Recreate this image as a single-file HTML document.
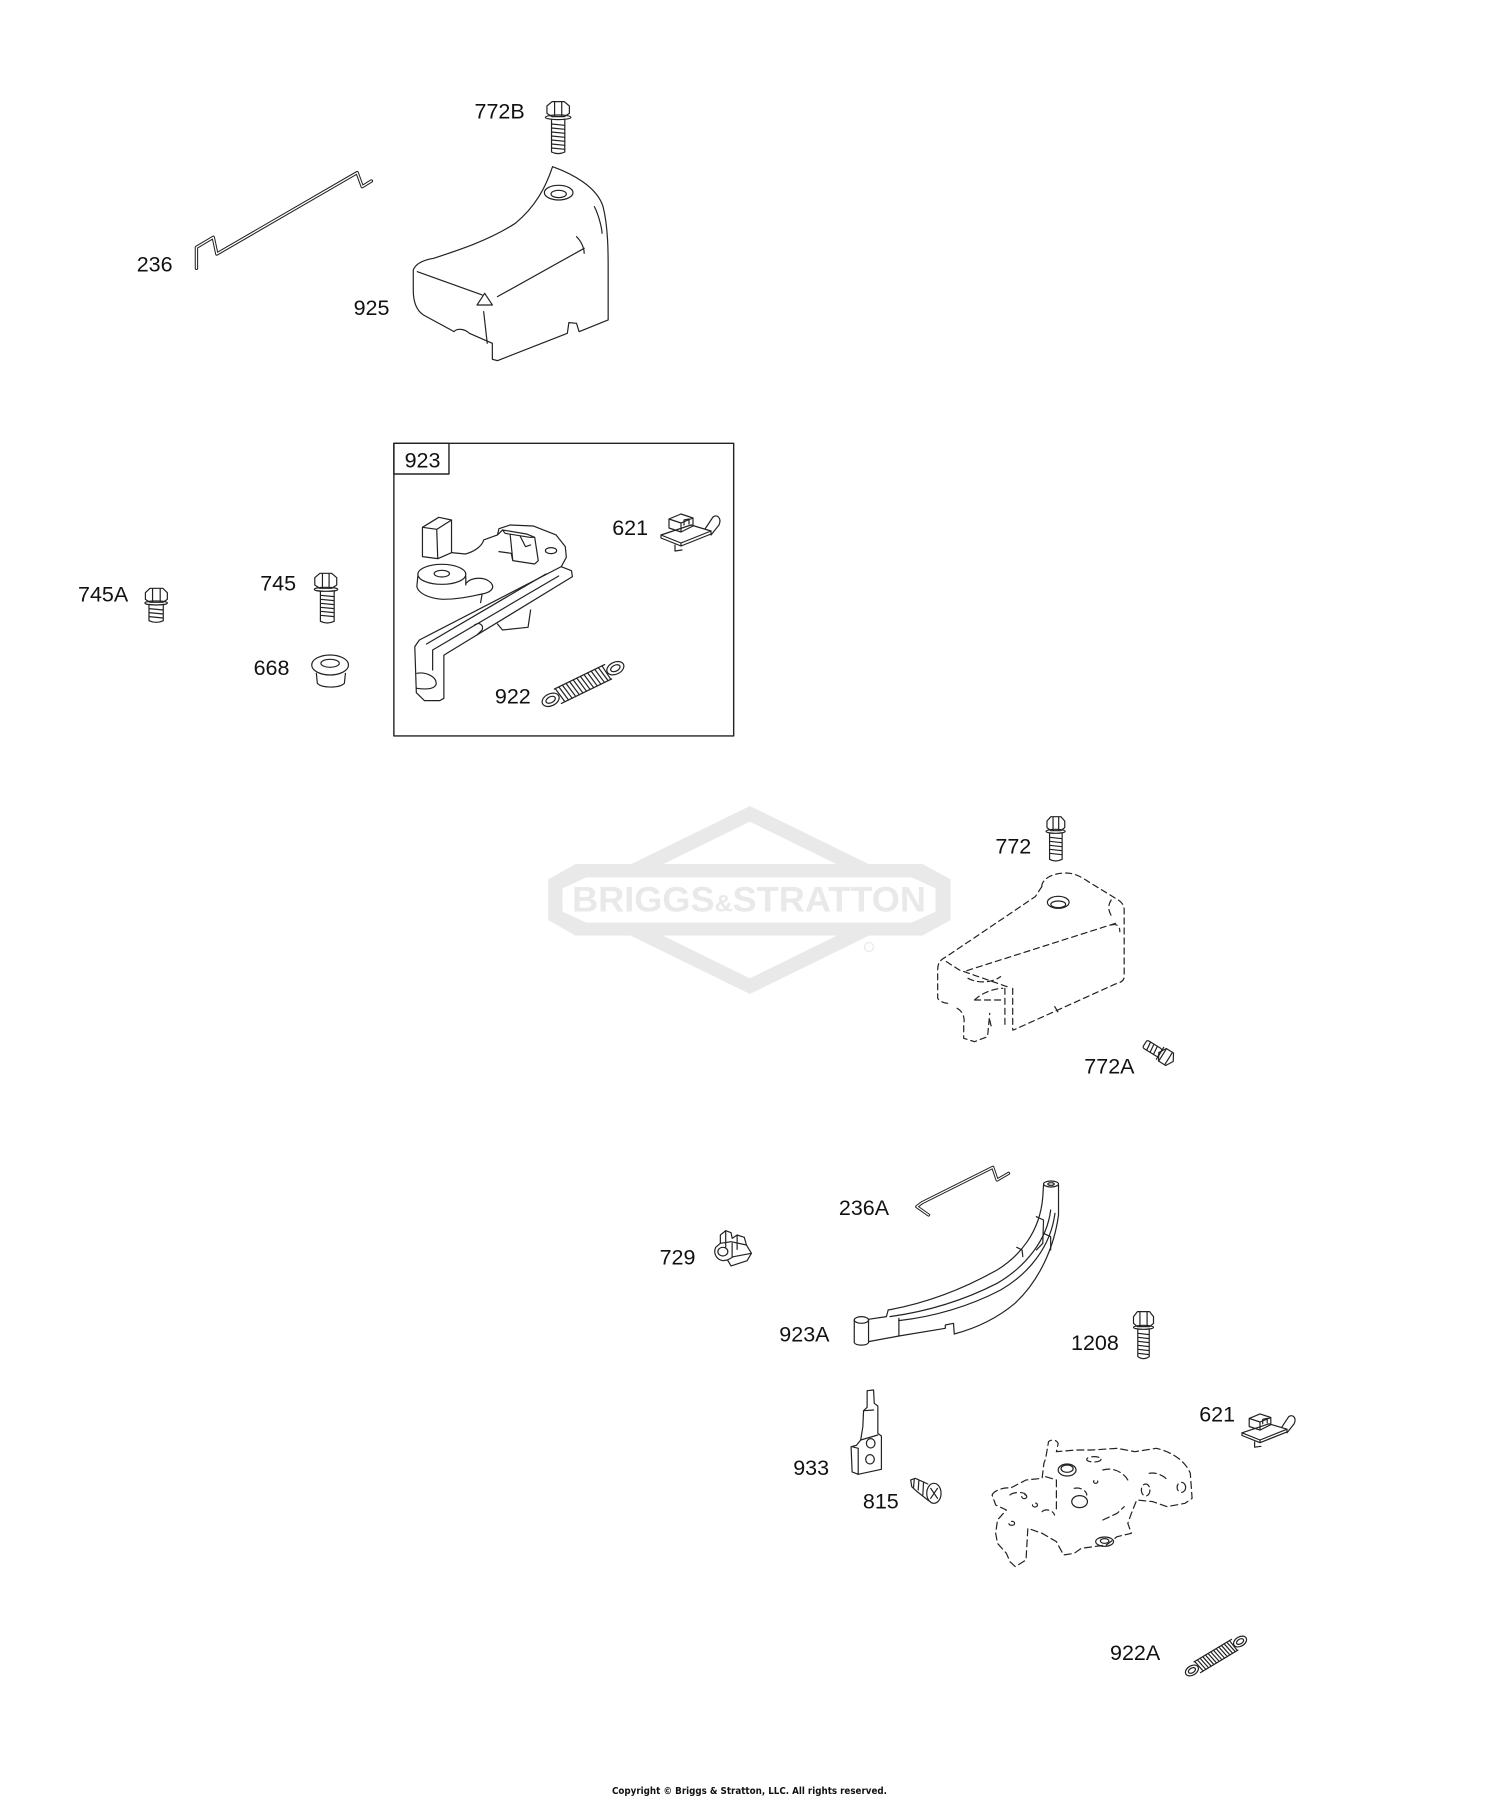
<!DOCTYPE html>
<html><head><meta charset="utf-8">
<style>
html,body{margin:0;padding:0;background:#fff;}
svg{display:block}
svg path,svg polyline,svg polygon,svg ellipse,svg rect,svg line,svg circle{vector-effect:non-scaling-stroke;}
.l{font-family:"Liberation Sans",Arial,sans-serif;font-size:21.5px;fill:#111;}
</style></head><body>
<svg width="1500" height="1800" viewBox="0 0 1500 1800" xmlns="http://www.w3.org/2000/svg">
<defs>
<g id="clip621">
<path d="M0,22 L30,12 L50,18 L20,30 Z"/>
<path d="M0,22 L0,25 L20,33 L50,21 L50,18 M20,30 L20,33"/>
<path d="M8,15 L8,6 L20,1 L32,5 L32,13 L20,19 Z M8,6 L20,10 L32,5 M20,10 L20,19"/>
<path d="M23,12 L23,7 L28,6 L28,11"/>
<path d="M44,16 L52,4 C56,1 61,5 58,12 L50,22"/>
<path d="M14,32 L14,38 L21,37"/>
</g>
<g id="spring">
<ellipse cx="-36" cy="0" rx="9" ry="6"/>
<ellipse cx="-36" cy="0" rx="5" ry="3"/>
<ellipse cx="36" cy="0" rx="9" ry="6"/>
<ellipse cx="36" cy="0" rx="5" ry="3"/>
<path d="M-28,-8 L28,-8 M-28,8 L28,8"/>
<path d="M-27,-8 l3,16 M-23,-8 l3,16 M-19,-8 l3,16 M-15,-8 l3,16 M-11,-8 l3,16 M-7,-8 l3,16 M-3,-8 l3,16 M1,-8 l3,16 M5,-8 l3,16 M9,-8 l3,16 M13,-8 l3,16 M17,-8 l3,16 M21,-8 l3,16 M25,-8 l2,16"/>
</g>
</defs>

<!-- watermark logo -->
<g transform="matrix(0.4337,0,0,0.3333,530,790)" fill="#e9e9e9" stroke="none">
<path fill-rule="evenodd" d="M507,48 L950,330 L507,612 L64,330 Z M507,95 L875,330 L507,565 L139,330 Z"/>
<path d="M105,222 L905,222 L970,268 L970,390 L905,437 L105,437 L42,390 L42,268 Z"/>
<path fill="#fff" d="M130,262 L880,262 L935,295 L935,365 L880,398 L130,398 L75,365 L75,295 Z"/>
</g>
<text x="572" y="911.5" font-family="Liberation Sans,Arial,sans-serif" font-weight="bold" font-size="35" fill="#e9e9e9" textLength="354" lengthAdjust="spacingAndGlyphs">BRIGGS<tspan font-size="24">&amp;</tspan>STRATTON</text>
<circle cx="869" cy="947" r="4.5" fill="none" stroke="#e9e9e9" stroke-width="1.2"/>

<g fill="none" stroke="#222" stroke-width="1.2" stroke-linejoin="round" stroke-linecap="round">

<!-- ZOOM 1 region -->
<g transform="matrix(0.5102,0,0,0.3333,0,0)">
 <path d="M1072,318 L1082,305 L1106,305 L1116,318 L1116,340 L1106,350 L1082,350 L1072,340 Z M1087,307 L1087,349 M1101,307 L1101,349"/>
 <ellipse cx="1094" cy="352" rx="25" ry="7"/>
 <path d="M1081,358 L1081,456 Q1094,466 1107,456 L1107,358"/>
 <path d="M1081,372 L1107,376 M1081,384 L1107,388 M1081,396 L1107,400 M1081,408 L1107,412 M1081,420 L1107,424 M1081,432 L1107,436 M1081,444 L1107,448"/>
 <polyline stroke-width="3.4" points="385,805 385,742 418,712 425,762 700,518 710,560 728,543"/>
 <polyline stroke="#fff" stroke-width="1.3" points="385,805 385,742 418,712 425,762 700,518 710,560 728,543"/>
 <path d="M1083,500 C1120,520 1170,560 1182,620 C1192,680 1192,760 1192,800 L1192,960 L1135,995 L1130,970 L1115,968 L1112,1000 L975,1082 L965,1078 L965,1030 C950,1020 935,1010 920,1000 C910,985 895,985 890,995 L830,945 C815,930 810,900 810,870 L810,810 C815,790 830,780 850,775 C900,750 960,720 1010,670 C1050,620 1070,560 1083,500 Z"/>
 <path d="M818,815 L945,885 M975,890 L1145,745 M950,880 L935,915 L965,915 Z M948,935 L955,1030 M1130,710 C1140,725 1145,745 1145,760 M1165,620 C1175,650 1180,690 1180,700"/>
 <ellipse cx="1095" cy="578" rx="28" ry="22"/>
 <ellipse cx="1095" cy="582" rx="15" ry="11"/>
</g>

<!-- ZOOM 2 region -->
<g transform="matrix(0.5102,0,0,0.3333,0,420)">
 <rect x="772" y="70" width="666" height="878" stroke-width="1.4"/>
 <rect x="772" y="70" width="108" height="92" stroke-width="1.4"/>
 <path d="M285,518 L294,505 L319,505 L328,518 L328,538 L319,547 L294,547 L285,538 Z M299,507 L299,546 M314,507 L314,546"/>
 <ellipse cx="306" cy="549" rx="22" ry="6"/>
 <path d="M292,556 L292,602 Q306,612 320,602 L320,556 M292,566 L320,570 M292,578 L320,582 M292,590 L320,594"/>
 <path d="M617,473 L627,460 L650,460 L660,473 L660,495 L650,505 L627,505 L617,495 Z M632,462 L632,504 M645,462 L645,504"/>
 <ellipse cx="639" cy="508" rx="23" ry="6"/>
 <path d="M628,514 L628,604 Q641,614 655,604 L655,514 M628,526 L655,530 M628,538 L655,542 M628,550 L655,554 M628,562 L655,566 M628,574 L655,578 M628,586 L655,590"/>
 <ellipse cx="647" cy="735" rx="36" ry="30"/>
 <ellipse cx="647" cy="730" rx="18" ry="12"/>
 <path d="M620,760 L622,790 C630,805 665,805 675,790 L677,760"/>
 <path d="M828,322 L860,292 L885,300 L885,398 L858,416 L828,410 Z M828,322 L856,328 L885,300 M856,328 L858,416"/>
 <ellipse cx="866" cy="463" rx="47" ry="30"/>
 <ellipse cx="866" cy="461" rx="15" ry="10"/>
 <path d="M819,468 L817,500 C820,520 840,535 868,538 C900,538 925,528 945,522 M913,470 L913,495"/>
 <path d="M885,398 L912,402 C930,395 945,378 948,360 L975,345 L978,326 L1000,315 L1045,318 L1090,345 L1108,380 L1110,412 L1100,440"/>
 <path d="M913,490 C925,470 950,470 962,488 C972,505 960,518 945,522 L942,548"/>
 <path d="M1040,570 L1035,622 L985,630 L975,612"/>
 <path d="M1100,440 L1120,452 L1122,470 L878,698 L870,706 L870,835 L862,842 L832,842 L816,818 L813,680 L822,660 Z"/>
 <path d="M1095,468 L848,690 L848,750 M1070,462 L836,672 M930,615 C940,605 948,615 945,630 L935,645"/>
 <path d="M817,760 C835,755 855,770 855,790 C855,805 840,810 817,805"/>
 <path d="M975,345 L985,330 L1032,342 L1048,352 L1055,422 L1048,432 L1005,422 L1002,400 L978,395 M985,330 L990,340 L1038,352 L1048,352 M1000,345 L1005,420 M1020,350 L1030,380 L1040,375"/>
 <ellipse cx="1080" cy="392" rx="11" ry="9"/>
</g>

<use href="#clip621" transform="translate(661,513)"/>
<use href="#spring" transform="translate(583,684) rotate(-26)"/>

<!-- ZOOM 3 region -->
<g transform="matrix(0.4337,0,0,0.3333,530,790)">
 <path d="M1192,93 L1201,80 L1224,80 L1233,93 L1233,113 L1224,122 L1201,122 L1192,113 Z M1206,82 L1206,121 M1219,82 L1219,121"/>
 <ellipse cx="1212" cy="124" rx="22" ry="6"/>
 <path d="M1198,130 L1198,208 Q1212,218 1227,208 L1227,130 M1198,142 L1227,146 M1198,154 L1227,158 M1198,166 L1227,170 M1198,178 L1227,182 M1198,190 L1227,194"/>
 <g stroke-dasharray="6 4">
 <path d="M1180,290 C1180,262 1215,245 1245,250 C1270,255 1285,275 1300,285 L1350,325 C1365,335 1370,345 1370,360 L1370,560 C1370,572 1362,578 1350,582 L1115,720"/>
 <path d="M1180,290 L1165,320 L960,500 C945,510 940,520 940,540 L940,625 C945,635 955,640 965,640"/>
 <path d="M985,655 C1000,665 1003,690 1000,700 L1000,745 L1025,755 L1055,740 L1060,670"/>
 <path d="M1095,595 L1095,715 M1113,595 L1113,720"/>
 <path d="M1340,330 C1330,350 1335,370 1345,385 M1350,400 L1000,545 M1340,405 C1355,400 1360,410 1360,425 M960,515 L990,540 L1100,590"/>
 <path d="M1010,565 C1030,580 1065,580 1085,560 M1025,630 C1040,610 1070,595 1090,595 M1025,630 L1090,630 M1210,650 L1220,672 M1060,690 L1065,718"/>
 </g>
 <ellipse cx="1218" cy="337" rx="25" ry="18"/>
 <ellipse cx="1218" cy="343" rx="17" ry="10"/>
</g>

<!-- 772A bolt -->
<g transform="translate(1166,1057) rotate(32)">
 <rect x="-25" y="-4.5" width="18" height="9" rx="2"/>
 <path d="M-21,-4.5 L-20,4.5 M-17,-4.5 L-16,4.5 M-13,-4.5 L-12,4.5"/>
 <path d="M-7,-7 L-7,7"/>
 <polygon points="8.5,0 4.25,7.4 -4.25,7.4 -8.5,0 -4.25,-7.4 4.25,-7.4"/>
 <path d="M-4,-7 L-4,7 M3,-7 L3,7"/>
</g>

<!-- ZOOM 4 region -->
<g transform="matrix(0.3571,0,0,0.3333,640,1160)">
 <polyline stroke-width="3.2" points="808,165 775,140 790,128 988,22 1000,60 1032,40"/>
 <polyline stroke="#fff" stroke-width="1.2" points="808,165 775,140 790,128 988,22 1000,60 1032,40"/>
 <path d="M212,262 C205,278 212,298 232,302 L245,300 L255,318 L300,302 L312,280 L298,255 L292,232 L272,225 L258,235 L255,218 L240,212 L225,225 L225,250 Z"/>
 <path d="M240,212 L240,262 M272,225 L272,268 M225,250 L255,245 L298,255 M245,300 L262,290 L312,280 M258,290 L258,250"/>
 <ellipse cx="232" cy="275" rx="14" ry="13"/>
 <ellipse cx="1151" cy="72" rx="21" ry="9"/>
 <ellipse cx="1151" cy="72" rx="9" ry="4"/>
 <path d="M1172,75 L1172,165 C1160,260 1120,360 1050,430 C1000,475 940,505 880,522"/>
 <path d="M1130,75 L1128,110 C1120,220 1060,290 1000,330 C900,390 800,430 695,450"/>
 <path d="M1150,150 C1140,240 1080,320 1000,370 C900,425 800,455 700,470"/>
 <path d="M1162,160 C1150,260 1090,340 1010,390 C920,440 820,470 725,482"/>
 <path d="M880,522 L878,490 L855,495 L855,505 L725,528 L640,545"/>
 <path d="M695,450 L690,470 L640,478 M725,475 L725,528 M1055,262 L1070,270 L1072,290 M1110,170 L1130,180 L1128,250 L1110,270 M1130,220 L1150,230 L1150,270"/>
 <ellipse cx="620" cy="480" rx="20" ry="10"/>
 <path d="M600,480 L600,548 C605,558 635,558 640,548 L640,480"/>
 <path d="M1382,470 L1393,455 L1427,455 L1438,470 L1438,490 L1427,500 L1393,500 L1382,490 Z M1400,457 L1400,499 M1420,457 L1420,499"/>
 <ellipse cx="1410" cy="502" rx="28" ry="6"/>
 <path d="M1394,508 L1394,590 Q1410,602 1426,590 L1426,508 M1394,520 L1426,524 M1394,532 L1426,536 M1394,544 L1426,548 M1394,556 L1426,560 M1394,568 L1426,572 M1394,580 L1426,584"/>
</g>

<!-- ZOOM 5 region -->
<g transform="matrix(0.3571,0,0,0.3333,760,1380)">
 <path d="M300,32 L318,30 L320,70 L330,78 L330,160 L340,168 L340,268 L275,283 L258,276 L255,200 L270,196 L282,180 L288,140 L290,92 L300,82 Z"/>
 <path d="M258,200 L275,205 L275,283 M282,180 L330,165 M290,92 L318,90"/>
 <ellipse cx="310" cy="190" rx="12" ry="14"/>
 <ellipse cx="308" cy="238" rx="12" ry="14"/>
 <ellipse cx="487" cy="340" rx="20" ry="30"/>
 <path d="M478,325 L497,355 M497,325 L478,355"/>
 <path d="M470,312 L435,295 L422,300 L425,320 L440,335 L472,362 M432,298 L430,322 M445,300 L443,330 M458,306 L456,345"/>
 <g stroke-dasharray="7 4">
 <path d="M650,345 C655,330 690,320 700,325 L745,300 L790,295 L795,250 L800,235 L808,185 C815,178 830,178 835,190 L830,215 L885,210 L930,210 L1000,205 L1050,215 L1110,205 C1150,215 1190,240 1205,280 L1210,355 L1190,370 L1140,380 L1100,365 L1055,360 L1040,400 L1030,430 L1040,460 L1000,470 L970,495 L900,505 L880,520 L850,525 L830,485 L790,460 L750,445 L745,540 L715,560 L700,545 L690,520 L665,490 L660,460 L665,420 L690,390 L660,375 Z"/>
 <path d="M960,270 C990,260 1020,280 1030,300 M1090,280 C1110,275 1135,290 1140,300 M800,290 L830,300 L830,390 M880,325 C900,320 915,335 915,345 M790,395 C800,385 820,390 825,405 M700,345 C710,335 740,335 745,345 M960,420 L1000,400 L1020,380"/>
 <ellipse cx="1080" cy="330" rx="12" ry="18"/>
 <ellipse cx="1180" cy="322" rx="12" ry="15"/>
 <ellipse cx="935" cy="238" rx="20" ry="8"/>
 <ellipse cx="940" cy="305" rx="6" ry="5"/>
 <ellipse cx="740" cy="350" rx="7" ry="6"/>
 <ellipse cx="705" cy="430" rx="8" ry="6"/>
 <ellipse cx="770" cy="375" rx="7" ry="6"/>
 </g>
 <ellipse cx="860" cy="270" rx="25" ry="18"/>
 <ellipse cx="860" cy="266" rx="17" ry="11"/>
 <ellipse cx="895" cy="365" rx="22" ry="18"/>
 <ellipse cx="965" cy="485" rx="25" ry="14"/>
 <ellipse cx="965" cy="483" rx="12" ry="7"/>
</g>

<use href="#clip621" transform="translate(1242,1413) scale(0.9)"/>
<use href="#spring" transform="translate(1216,1656) rotate(-31) scale(0.78)"/>
</g>

<text class="l" x="474.5" y="118.3">772B</text>
<text class="l" x="136.7" y="271.7">236</text>
<text class="l" x="353.6" y="315">925</text>
<text class="l" x="404.6" y="467.7">923</text>
<text class="l" x="612.2" y="535">621</text>
<text class="l" x="78" y="601.7">745A</text>
<text class="l" x="260.2" y="590.7">745</text>
<text class="l" x="253.6" y="675">668</text>
<text class="l" x="494.9" y="703.3">922</text>
<text class="l" x="995.4" y="853.3">772</text>
<text class="l" x="1084.3" y="1073.3">772A</text>
<text class="l" x="838.9" y="1215">236A</text>
<text class="l" x="659.6" y="1264.3">729</text>
<text class="l" x="779.3" y="1341.7">923A</text>
<text class="l" x="1071" y="1350">1208</text>
<text class="l" x="1199.2" y="1421.7">621</text>
<text class="l" x="793.2" y="1475">933</text>
<text class="l" x="862.9" y="1508.3">815</text>
<text class="l" x="1110" y="1660">922A</text>

<text x="749.5" y="1794" text-anchor="middle" font-family="DejaVu Sans,Liberation Sans,sans-serif" font-weight="bold" font-size="9.5" fill="#111" textLength="275" lengthAdjust="spacingAndGlyphs">Copyright © Briggs &amp; Stratton, LLC. All rights reserved.</text>
</svg>
</body></html>
